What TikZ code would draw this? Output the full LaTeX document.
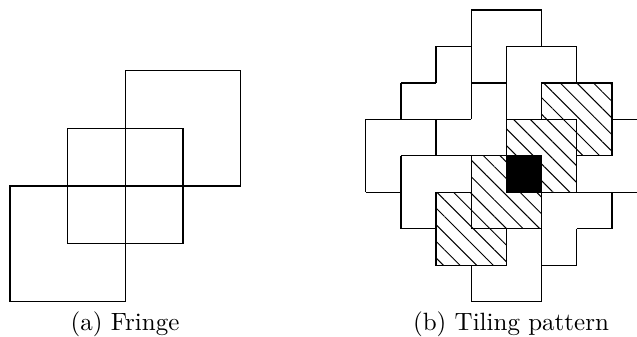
\documentclass[tikz,border=0pt]{standalone}
\usetikzlibrary{patterns.meta}
\tikzset{
  edge/.style={draw=black, line width=0.5pt},
  hatchsq/.style={preaction={fill=white}, pattern={Lines[angle=-45,distance=4.7pt,line width=0.4pt]}, draw=black, line width=0.5pt},
  solidcell/.style={fill=black, draw=black, line width=0.5pt},
  captext/.style={anchor=base, inner sep=0pt, font=\normalsize}
}
\begin{document}
\begin{tikzpicture}[x=0.4pt,y=-0.4pt]
\useasboundingbox (0,0) rectangle (637,337);
% (a) Fringe
\begin{scope}[shift={(4pt,-28.28pt)}, x=23.068pt, y=-23.068pt]
  \draw[edge] (2,0) rectangle (4,2);
  \draw[edge] (1,1) rectangle (3,3);
  \draw[edge] (0,2) rectangle (2,4);
  \draw[edge] (2,1) -- (2,3) (1,2) -- (3,2);
\end{scope}
% (b) Tiling pattern
\begin{scope}[shift={(146.28pt,-4pt)}, x=14.076pt, y=-14.584pt]
  \draw[edge]
    (3,0)--(5,0)
    (2,1)--(3,1) (4,1)--(6,1)
    (1,2)--(2,2) (3,2)--(4,2)
    (0,3)--(3,3) (7,3)--(7.72,3)
    (1,4)--(3,4)
    (0,5)--(1,5) (5,5)--(7.72,5)
    (1,6)--(2,6) (6,6)--(7,6)
    (5,7)--(6,7)
    (3,8)--(5,8)
    (0,3)--(0,5)
    (1,2)--(1,3) (1,4)--(1,6)
    (2,1)--(2,2) (2,3)--(2,4)
    (3,0)--(3,3) (3,7)--(3,8)
    (4,1)--(4,3)
    (5,0)--(5,1) (5,5)--(5,8)
    (6,1)--(6,2) (6,6)--(6,7)
    (7,5)--(7,6);
  \path[hatchsq] (5,2) rectangle (7,4);
  \path[hatchsq] (2,5) rectangle (4,7);
  \path[hatchsq] (4,3) rectangle (6,5);
  \path[hatchsq] (3,4) rectangle (5,6);
  \path[solidcell] (4,4) rectangle (5,5);
\end{scope}
\node[captext] (capa) at (125,330) {(a) Fringe};
\node[captext] (capb) at (511,330) {(b) Tiling pattern};
\end{tikzpicture}
\end{document}
